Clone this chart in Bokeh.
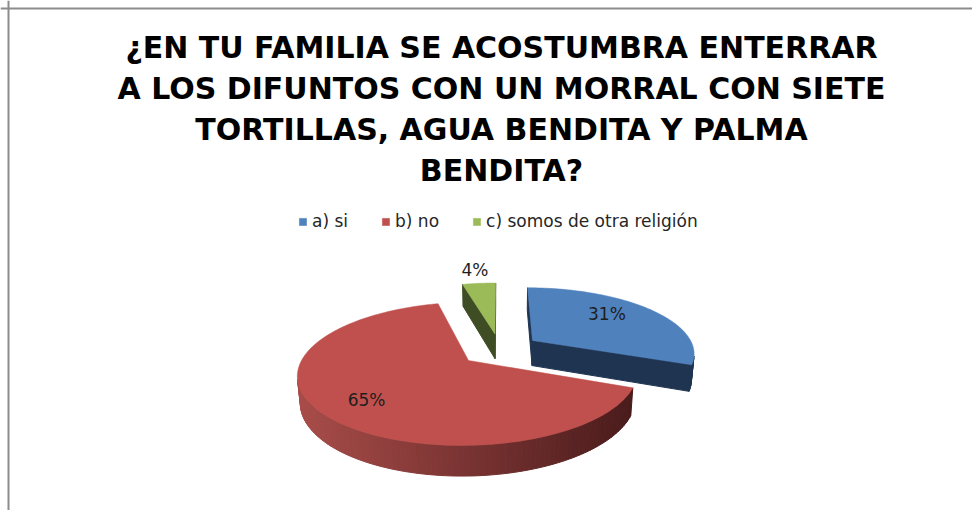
import numpy as np
from bokeh.plotting import figure
from bokeh.models import Range1d, Label, Legend, LegendItem, Span
from bokeh.embed import file_html
from bokeh.resources import INLINE

# ---- data ----
CATEGORIES = ["a) si", "b) no", "c) somos de otra religión"]
VALUES = [31, 65, 4]
PCT_LABELS = ["31%", "65%", "4%"]
TITLE_LINES = [
    "¿EN TU FAMILIA SE ACOSTUMBRA ENTERRAR",
    "A LOS DIFUNTOS CON UN MORRAL CON SIETE",
    "TORTILLAS, AGUA BENDITA Y PALMA",
    "BENDITA?",
]

# ---- style ----
TOP_COLORS = ["#4F81BD", "#C0504D", "#9BBB59"]
SIDE_COLORS = ["#1F3451", ("#A84C49", "#4A1B1B"), "#3E4D23"]
LABEL_R = [0.62, 0.72, 1.32]
LABEL_DY = [-6, 3, 0]
FONT = "DejaVu Sans"

W, H = 972, 510
p = figure(width=W, height=H, x_range=Range1d(0, W), y_range=Range1d(H, 0),
           output_backend="svg", toolbar_location=None, min_border=0,
           x_axis_location=None, y_axis_location=None)
p.grid.visible = False
p.outline_line_color = None
p.title.visible = False
p.background_fill_color = "white"
p.border_fill_color = "white"

# frame lines (left / top)
p.add_layout(Span(location=8, dimension="height", line_color="#8c8c8c", line_width=2))
p.add_layout(Span(location=8, dimension="width", line_color="#8c8c8c", line_width=2))

# ---- 3D perspective projection ----
A, S, C, K = 162.0, 0.402, 0.916, 0.1965
CX, CY = 499.3, 348.9
EXPLODE = 0.25
THICK = 0.175
CAM = np.array([0.0, -C / K, S / K])


def proj(X, Y, Z):
    X = np.asarray(X, float); Y = np.asarray(Y, float); Z = np.asarray(Z, float)
    w = 1 + K * (Y * C - Z * S)
    return CX + A * X / w, CY - A * (Y * S + Z * C) / w


def lerp_color(c1, c2, t):
    a = [int(c1[i:i + 2], 16) for i in (1, 3, 5)]
    b = [int(c2[i:i + 2], 16) for i in (1, 3, 5)]
    return "#%02x%02x%02x" % tuple(int(round(a[i] + (b[i] - a[i]) * t)) for i in range(3))


total = float(sum(VALUES))
start = 90.0
slices = []
for i, v in enumerate(VALUES):
    sweep = v / total * 360.0
    a0, a1 = start, start - sweep
    start = a1
    m = np.radians((a0 + a1) / 2)
    slices.append(dict(i=i, a0=a0, a1=a1, m=m,
                       ox=EXPLODE * np.cos(m), oy=EXPLODE * np.sin(m)))

order = sorted(slices, key=lambda s: -s["oy"])
top_renderers = {}
for s in order:
    i, a0, a1, ox, oy = s["i"], s["a0"], s["a1"], s["ox"], s["oy"]
    npts = max(4, int(abs(a1 - a0) / 1.5))
    t = np.radians(np.linspace(a0, a1, npts))
    faces = []
    # radial faces
    for ang, nang in ((a0, a0 + 90), (a1, a1 - 90)):
        r, nr = np.radians(ang), np.radians(nang)
        X = [ox, ox + np.cos(r), ox + np.cos(r), ox]
        Y = [oy, oy + np.sin(r), oy + np.sin(r), oy]
        Z = [0, 0, -THICK, -THICK]
        P = np.array([np.mean(X), np.mean(Y), -THICK / 2])
        n = np.array([np.cos(nr), np.sin(nr), 0])
        if np.dot(n, CAM - P) > 0:
            faces.append((X, Y, Z))
    # outer wall
    for j in range(len(t) - 1):
        tm = (t[j] + t[j + 1]) / 2
        X = [ox + np.cos(t[j]), ox + np.cos(t[j + 1]), ox + np.cos(t[j + 1]), ox + np.cos(t[j])]
        Y = [oy + np.sin(t[j]), oy + np.sin(t[j + 1]), oy + np.sin(t[j + 1]), oy + np.sin(t[j])]
        Z = [0, 0, -THICK, -THICK]
        P = np.array([ox + np.cos(tm), oy + np.sin(tm), -THICK / 2])
        n = np.array([np.cos(tm), np.sin(tm), 0])
        if np.dot(n, CAM - P) > 0:
            faces.append((X, Y, Z))
    xs, ys = [], []
    for X, Y, Z in faces:
        px, py = proj(X, Y, Z)
        xs.append(list(px)); ys.append(list(py))
    if xs:
        sc = SIDE_COLORS[i]
        if isinstance(sc, tuple):
            mids = [np.mean(x) for x in xs]
            lo, hi = min(mids), max(mids)
            cols = [lerp_color(sc[0], sc[1], (mx - lo) / (hi - lo if hi > lo else 1)) for mx in mids]
        else:
            cols = [sc] * len(xs)
        p.patches(xs, ys, fill_color=cols, line_color=cols, line_width=1)
    # top
    TX = np.concatenate([[ox], ox + np.cos(t)])
    TY = np.concatenate([[oy], oy + np.sin(t)])
    px, py = proj(TX, TY, np.zeros_like(TX))
    top_renderers[i] = p.patch(list(px), list(py), fill_color=TOP_COLORS[i],
                               line_color=TOP_COLORS[i], line_width=0.5)

# data labels
for s in slices:
    i = s["i"]
    r = LABEL_R[i]
    lx, ly = proj(s["ox"] + r * np.cos(s["m"]), s["oy"] + r * np.sin(s["m"]), 0.0)
    p.add_layout(Label(x=float(lx), y=float(ly) + LABEL_DY[i], text=PCT_LABELS[i], text_align="center",
                       text_baseline="middle", text_font=FONT, text_font_size="17px",
                       text_color="#1e1e1e"))

# title
TITLE_BASELINES = [46.5, 87.5, 128.5, 169.5]
for line, yb in zip(TITLE_LINES, TITLE_BASELINES):
    p.add_layout(Label(x=501, y=yb, text=line, text_align="center", text_baseline="alphabetic",
                       text_font=FONT, text_font_style="bold", text_font_size="30px",
                       text_color="#000000"))

# legend
legend = Legend(items=[LegendItem(label=CATEGORIES[i], renderers=[top_renderers[i]]) for i in range(len(CATEGORIES))],
                orientation="horizontal", location=(298, 279), spacing=33,
                glyph_width=9, glyph_height=9, label_standoff=5, padding=0, margin=0,
                border_line_color=None, background_fill_alpha=0,
                label_text_font=FONT, label_text_font_size="17px", label_text_color="#262626",
                label_height=16)
p.add_layout(legend)

open("out.html", "w").write(file_html(p, INLINE))
